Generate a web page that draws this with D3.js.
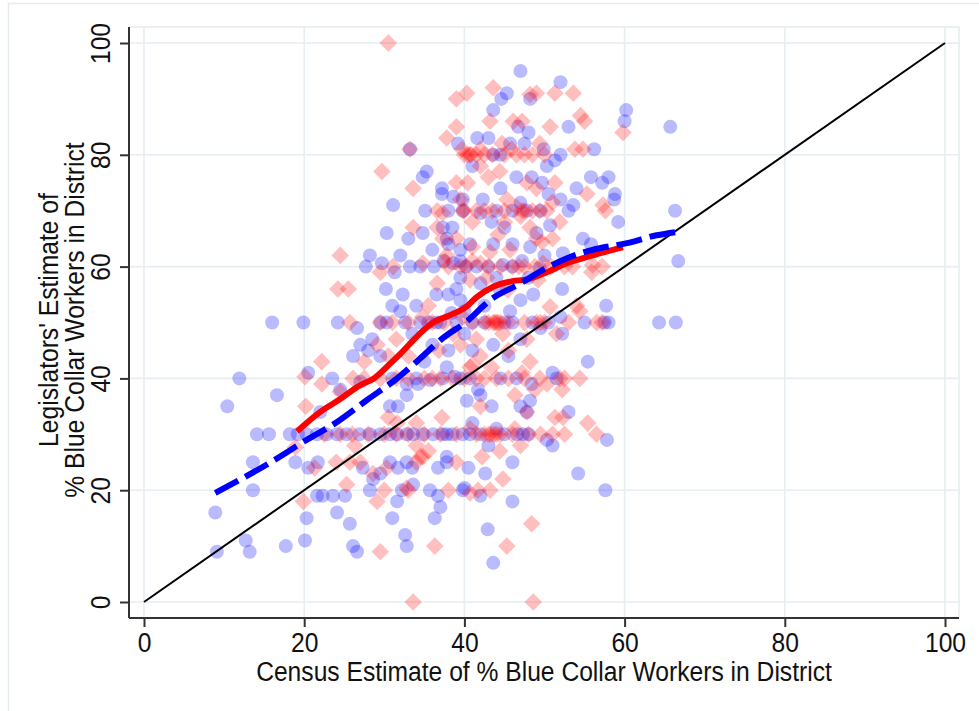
<!DOCTYPE html>
<html>
<head>
<meta charset="utf-8">
<script src="https://cdn.jsdelivr.net/npm/d3@7"></script>
<style>
  html, body { margin: 0; padding: 0; background: #fff; }
  svg { display: block; }
  text { font-family: "Liberation Sans", Arial, sans-serif; fill: #111; }
</style>
</head>
<body>
<svg id="chart" width="979" height="711"></svg>
<script>
// Census estimate (x) vs legislators' estimate (y) of % blue collar workers
const xTicks = [0, 20, 40, 60, 80, 100];
const yTicks = [0, 20, 40, 60, 80, 100];
const xTitle = "Census Estimate of % Blue Collar Workers in District";
const yTitleLines = ["Legislators' Estimate of", "% Blue Collar Workers in District"];

// Group A legislators (blue circles)
const bluePoints = [
  [8.9,16],[9.1,9],[10.4,35],[11.9,40],[12.7,11],[13.2,9],[13.6,25],[13.6,20],[14.1,30],[15.6,30],
  [16,50],[16.6,37],[17.7,10],[18.2,30],[18.9,25],[19.2,30],[19.9,50],[20.1,11],[20.3,15],[20.3,30],
  [20.5,41],[20.5,24],[21.6,30],[21.7,25],[21.6,19],[22,34],[22.3,19],[22.8,30],[23.5,40],[23.6,19],
  [24.1,30],[24.1,16],[24.2,50],[24.5,38],[25.1,19],[25.3,30],[25.7,14],[26.1,10],[26.1,44],[26.6,9],
  [26.6,49],[26.9,30],[27,46],[27,39.4],[27.3,24],[27.7,60],[28,45],[28.2,30],[28.2,20],[28.2,62],
  [28.6,22],[29.5,30],[29.5,23],[29.5,50],[29.7,60.6],[30.2,56],[30.3,50],[30.3,66],[30.7,25],[30.7,30],
  [30.7,35],[31,53],[31,15],[31.1,71],[31.3,59],[31.6,30],[31.6,18],[31.7,35],[31.7,24],[32,52],
  [32.2,20],[32.3,55],[32.6,50],[32.6,12],[32.8,10],[32.8,37],[32.8,39],[32.8,25],[32.8,30],[33,65],
  [33.2,60],[33.2,81],[33.5,24],[33.6,30],[33.6,21],[34.2,39],[34.5,50],[34.5,60],[34.8,66],[34.8,30],
  [34.8,76],[35.1,70],[35.3,77],[35.5,50],[35.7,39.7],[35.7,20],[36.1,30],[36.2,60],[36.3,15],[36.7,24],
  [36.7,19],[37,17],[37.2,74],[37.2,73],[37.3,67],[37.3,30],[37.4,61],[37.8,25],[37.8,65],[37.8,42],
  [37.8,26],[37.8,30],[38,55],[38,70],[38.4,51.7],[38.5,67],[38.6,72.5],[38.6,60.6],[38.8,40.3],[39,56],
  [39.2,82],[39.5,63],[39.5,58],[39.5,54],[39.5,61],[39.8,72],[39.8,20],[39.8,30],[40,48],[40,20.4],
  [40.3,36],[40.5,24],[40.7,30],[40.7,64],[40.7,40],[41,32],[41.6,83],[41.7,38],[42,37],[42,19],
  [42,69.6],[42,57],[42.3,72],[42.6,23],[42.9,13],[43,83],[43,28],[43.4,35],[43.4,68],[43.6,88],
  [43.6,46],[43.6,64],[43.6,80],[43.6,7],[44,31],[44.4,56],[44.6,90],[44.8,60.3],[45.3,91],[45.7,82],
  [45.7,52],[46,25],[46,18],[46,64],[46.6,30],[46.7,85],[47,95],[47,35],[47,71.4],[47,54],
  [47.2,61],[47.3,30],[47.8,70],[47.8,34],[48,30],[48.2,90],[48.2,36],[48.2,63.5],[48.4,39],[48.4,76],
  [48.6,55],[49.4,59.7],[49.7,75],[49.9,81],[50.3,78],[50.3,29],[50.7,67.4],[51,41],[51,28],[51.3,79],
  [51.5,40],[52,93],[52,80],[52,72],[52,51],[52.2,56],[52.2,48],[52.3,62.4],[53,85],[53,70],
  [53,34],[53.6,71],[54,74],[54.2,23],[54.8,65],[55.4,43],[55.8,76],[55.8,64],[56.2,81],[57.2,75],
  [57.7,53],[57.6,20],[57.8,29],[58,76],[58,50],[58.7,72],[58.8,73],[59.2,68],[60,86],[60.2,88],
  [64.3,50],[65.7,85],[66.3,70],[66.4,50],[66.7,61],
  [31,40],[34,40],[37.3,40],[39.5,40],[44.5,40],[46.5,40],
  [40.2,60],[41.5,60],[43,60],[46,60],
  [39.8,70],[44,70],[46,70],[49.5,70],
  [36.5,50],[37,50],[39,50],[41,50],[42.5,50],[45,50],[46,50],[48.5,50],[50.5,50],[55,50],[57.5,50],
  [38.5,30],[42,30],[45,30],
  [28.5,47],[29.5,44],[33.5,48],[36,46],[38,45],[35,43],[41,45],[45.5,44],[47,47],[49.5,49],
  [42.5,53],[36.5,55],[34,53],[40,52],[44,58],[48,58],[50,62],[45,67],[49,66],[38,64],[32,62],[36,63],
  [44.5,80],[47.5,82],[50.5,73],[46.5,76],[48,84],[41,78],[44.5,74]
];

// Group B legislators (red diamonds)
const redPoints = [
  [18.9,27.7],[19.9,18],[20.1,40.3],[20.2,35],[21.3,24],[22.2,43],[22.2,39],[24.2,56],[24.5,62],[24.5,37.6],
  [25.3,21],[25.5,56],[25.7,50],[25.7,25],[26.1,40],[26.3,28],[28.6,23],[29.1,46],[29.1,18],[29.5,9],
  [29.5,50],[29.5,59],[29.7,77],[30.3,24],[30.5,100],[30.5,33],[31.1,60],[31.6,32],[32.8,20.4],[33.2,81],
  [33.6,74],[33.6,67],[33.6,0],[34,32],[34,28],[34.5,26],[34.8,51],[34.8,60.6],[34.8,26],[35.5,27],
  [36,40],[36.3,10],[36.6,70],[36.6,67],[36.6,57],[37.2,33],[37.3,65],[37.3,69.6],[37.6,61],[37.8,83],
  [37.8,62],[39,90],[39,85],[39,75],[39,65],[39.5,72],[39.7,81],[39.8,70],[39.8,51],[40.3,91],
  [40.4,75],[40.4,80],[40.7,80],[40.7,42],[40.7,31],[40.7,57.6],[40.7,19.5],[41,68],[41,63.5],[41,61],
  [41,42.4],[42,81],[42,78],[42,60.6],[42,35],[42.2,26],[42.8,58],[43,76],[43.2,86],[43.2,62.6],
  [43.2,20],[43.4,42],[43.6,92],[43.6,50],[44.2,65.7],[44.4,77],[44.4,27],[44.7,82],[44.8,22],[45,68],
  [45.3,72],[45.3,10],[45.4,55.8],[45.7,63],[45.9,81],[46.1,86],[46.3,37],[46.3,31],[46.5,70.6],[47,69],
  [47,28],[47.2,86],[47.2,41],[47.8,75],[47.8,47],[47.8,34],[48.2,90.8],[48.2,43],[48.2,67],[48.4,14],
  [48.6,0],[48.8,38],[49,91],[49,74],[49,65],[49.2,57.6],[49.4,82],[49.4,70],[49.4,40],[49.7,64.4],
  [49.8,60.6],[50.3,39],[50.7,85],[50.7,52.8],[51,71.5],[51,65],[51,30],[51.3,91],[51.3,75],[51.3,33],
  [51.5,48],[51.9,68],[51.9,40],[52.2,38],[52.3,33],[53.6,91],[53.8,81],[54,53],[54.4,52],[54.4,40],
  [54.5,87],[54.8,81],[55,86],[55.3,73],[55.4,32],[55.9,59],[56,60.3],[56.5,30],[57.2,60],[57.2,50],
  [57.3,71],[57.6,70],[59.8,84],
  [40,80],[41.5,80],[42.5,80],[43.5,80],[45,80],[46.5,80],[47.5,80],[48.5,80],[50,80],
  [40,70],[41.5,70],[42.5,70],[43.5,70],[45,70],[47.5,70],[48.5,70],[50.3,70],
  [38,60],[39.5,60],[40.2,60],[43,60],[44.5,60],[46,60],[47.5,60],[48.8,60],[50.8,60],[52.5,60],[53.5,60],
  [31,50],[33,50],[36,50],[37.5,50],[41,50],[42.6,50],[43,50],[44,50],[44.5,50],[45.5,50],[47.5,50],[49,50],[50,50],[53,50],[56.5,50],
  [27.5,40],[29.5,40],[31.5,40],[33,40],[35,40],[37,40],[38.5,40],[40,40],[41.5,40],[42.5,40],[44,40],[45.5,40],[47.5,40],[52.5,40],
  [22.5,30],[24.5,30],[26,30],[28,30],[30,30],[31.5,30],[33,30],[35,30],[37,30],[39,30],[41.5,30],[42.5,30],[43,30],[43.7,30],[44.5,30],[46,30],[48,30],[49.5,30],[52.5,30],
  [30,20],[33,20],[38,20],[41.7,20],
  [24,25],[27,25],[34,25],[39,25],
  [35.5,53],[38.6,48],[36.8,45],[33,44],[31.5,47],[30.5,44],[39.5,46],[41.5,47],[45.5,45],[44.8,48],[42,44],[27.5,43],
  [43.3,30],[44,30],[43.8,50],[44.2,50],[46.8,60],[47.2,70],[40.8,80],[49.5,50]
];

// Smoothed fits
const redFit = [
  [19.1,30.5],[22,34],[24.5,36.3],[27,38.8],[28.6,39.9],[30.7,42.6],[32,44.4],[33.6,46.8],[34.5,48.1],[36.1,50],
  [38.2,51.3],[40.3,52.9],[41.5,54.5],[43.6,56.4],[46,57.4],[47.8,57.7],[50.3,59],[52.8,60.6],[56,62],[59.8,63.5]
];
const blueFit = [
  [8.9,19.5],[15.7,24.9],[20.3,29],[24.1,32.2],[27.8,36.1],[31.6,40],[34.5,43.6],[37.3,47.2],[40.3,50.2],[43.2,54],
  [47,57],[49.8,59.4],[52.8,61.5],[56,63],[60.3,64.2],[64,65.6],[66.5,66.2]
];
const diagonal = [[0,0],[100,100]];

const svg = d3.select("#chart");
const frame = { left: 129, right: 959, top: 27, bottom: 618 };
const x = d3.scaleLinear().domain([0, 100]).range([144, 945]);
const y = d3.scaleLinear().domain([0, 100]).range([602, 43]);
const gridColor = "#e6eef1";
const squeeze = "scale(0.88,1)";

// outer graph frame
svg.append("rect")
  .attr("x", 8.5).attr("y", 3.5).attr("width", 990).attr("height", 730)
  .attr("fill", "none").attr("stroke", "#e3ebee").attr("stroke-width", 1.5);

// plot region
svg.append("rect")
  .attr("x", frame.left).attr("y", frame.top)
  .attr("width", frame.right - frame.left).attr("height", frame.bottom - frame.top)
  .attr("fill", "#fff").attr("stroke", gridColor).attr("stroke-width", 1.6);

// grid
svg.append("g").selectAll("line").data(xTicks).join("line")
  .attr("x1", d => x(d)).attr("x2", d => x(d))
  .attr("y1", frame.top).attr("y2", frame.bottom)
  .attr("stroke", gridColor).attr("stroke-width", 1.6);
svg.append("g").selectAll("line").data(yTicks).join("line")
  .attr("y1", d => y(d)).attr("y2", d => y(d))
  .attr("x1", frame.left).attr("x2", frame.right)
  .attr("stroke", gridColor).attr("stroke-width", 1.6);

// markers
const diamond = {
  draw(ctx, size) {
    const r = Math.sqrt(size / 2);
    ctx.moveTo(0, -r); ctx.lineTo(r, 0); ctx.lineTo(0, r); ctx.lineTo(-r, 0); ctx.closePath();
  }
};
svg.append("g").selectAll("path").data(bluePoints).join("path")
  .attr("d", d3.symbol(d3.symbolCircle, Math.PI * 7 * 7))
  .attr("transform", d => `translate(${x(d[0])},${y(d[1])})`)
  .attr("fill", "rgba(0,0,255,0.27)");
svg.append("g").selectAll("path").data(redPoints).join("path")
  .attr("d", d3.symbol(diamond, 2 * 8.8 * 8.8))
  .attr("transform", d => `translate(${x(d[0])},${y(d[1])})`)
  .attr("fill", "rgba(255,0,0,0.25)");

// lines
const line = d3.line().x(d => x(d[0])).y(d => y(d[1])).curve(d3.curveMonotoneX);
svg.append("path").datum(diagonal).attr("d", d3.line().x(d => x(d[0])).y(d => y(d[1])))
  .attr("fill", "none").attr("stroke", "#000").attr("stroke-width", 2);
svg.append("path").datum(redFit).attr("d", line)
  .attr("fill", "none").attr("stroke", "#ff0000").attr("stroke-width", 6).attr("stroke-linejoin", "round");
svg.append("path").datum(blueFit).attr("d", line)
  .attr("fill", "none").attr("stroke", "#0000ff").attr("stroke-width", 6)
  .attr("stroke-dasharray", "26,8");

// axes
const axisColor = "#333";
const yAxis = svg.append("g").attr("transform", `translate(${frame.left},0)`)
  .call(d3.axisLeft(y).tickValues(yTicks).tickSize(9).tickSizeOuter(0));
yAxis.select(".domain").remove();
yAxis.selectAll(".tick line").attr("stroke", axisColor).attr("stroke-width", 2);
yAxis.selectAll(".tick text")
  .attr("x", 0).attr("dy", 0).attr("text-anchor", "middle")
  .attr("transform", `translate(-19,0) rotate(-90) ${squeeze}`)
  .style("font-size", "28px").attr("fill", "#111");
yAxis.append("line").attr("x1", 0).attr("x2", 0)
  .attr("y1", frame.top).attr("y2", frame.bottom)
  .attr("stroke", axisColor).attr("stroke-width", 2);

const xAxis = svg.append("g").attr("transform", `translate(0,${frame.bottom})`)
  .call(d3.axisBottom(x).tickValues(xTicks).tickSize(9).tickSizeOuter(0));
xAxis.select(".domain").remove();
xAxis.selectAll(".tick line").attr("stroke", axisColor).attr("stroke-width", 2);
xAxis.selectAll(".tick text")
  .attr("y", 34).attr("dy", 0)
  .attr("transform", squeeze)
  .style("font-size", "28px").attr("fill", "#111");
xAxis.append("line").attr("x1", frame.left).attr("x2", frame.right)
  .attr("y1", 0).attr("y2", 0)
  .attr("stroke", axisColor).attr("stroke-width", 2);

// titles
svg.append("text")
  .attr("transform", `translate(${(frame.left + frame.right) / 2},681) ${squeeze}`)
  .attr("text-anchor", "middle").style("font-size", "28px")
  .text(xTitle);
svg.append("g").selectAll("text").data(yTitleLines).join("text")
  .attr("transform", (d, i) => `translate(${58 + i * 26},320) rotate(-90) ${squeeze}`)
  .attr("text-anchor", "middle").style("font-size", "28px")
  .text(d => d);
</script>
</body>
</html>
